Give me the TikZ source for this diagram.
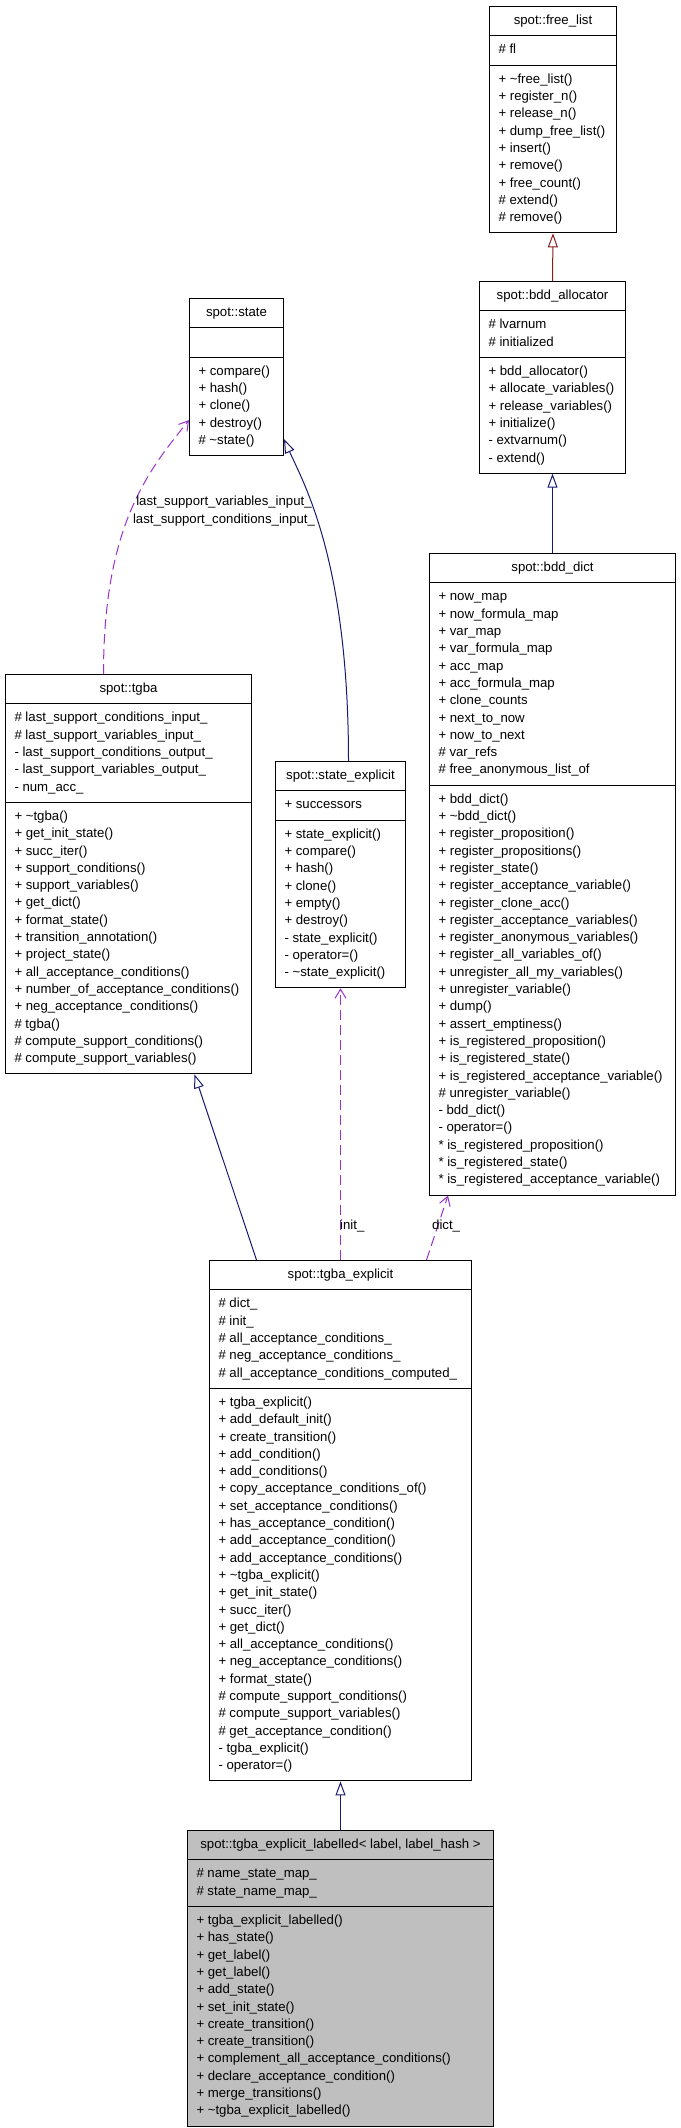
\documentclass[tikz,border=0pt]{standalone}
\usepackage{fontspec}
\setmainfont{Liberation Sans}
\usetikzlibrary{shapes.multipart,arrows.meta}

\definecolor{inheritblue}{RGB}{25,25,112}
\definecolor{inheritred}{RGB}{139,26,26}
\definecolor{usepurple}{RGB}{154,50,205}

\tikzset{
	umlclass/.style={draw=black, line width=1pt, rectangle split, rectangle split parts=3,
		anchor=north west, inner xsep=9pt, inner ysep=5.5pt, align=flush left,
		font=\fontsize{13.2}{17.3}\selectfont},
	pubinherit/.style={draw=inheritblue, line width=1pt, -{Triangle[length=14pt,width=10pt,fill=white]}},
	protinherit/.style={draw=inheritred, line width=1pt, -{Triangle[length=14pt,width=10pt,fill=white]}},
	usage/.style={draw=usepurple, line width=1pt, dash pattern=on 10pt off 5pt, -{Straight Barb[length=9pt,width=11pt]}},
	edgelabel/.style={inner sep=0pt, align=center, font=\fontsize{13.2}{17.3}\selectfont}
}

\begin{document}
\begin{tikzpicture}[x=1pt, y=-1pt]
	\useasboundingbox (0,0) rectangle (680,2128);

	% Classes
	%free_list
	\node[umlclass, text width=109pt] (free_list) at (489,6) {\strut\hfill spot::free\_list\hfill\null
		\nodepart{second}\strut \# fl
		\nodepart{third}\strut + \textasciitilde free\_list()\\
		+ register\_n()\\
		+ release\_n()\\
		+ dump\_free\_list()\\
		+ insert()\\
		+ remove()\\
		+ free\_count()\\
		\# extend()\\
		\# remove()\strut};
	%bdd_allocator
	\node[umlclass, text width=128pt] (bdd_allocator) at (479,281) {\strut\hfill spot::bdd\_allocator\hfill\null
		\nodepart{second}\strut \# lvarnum\\
		\# initialized\strut
		\nodepart{third}\strut + bdd\_allocator()\\
		+ allocate\_variables()\\
		+ release\_variables()\\
		+ initialize()\\
		- extvarnum()\\
		- extend()\strut};
	%state
	\node[umlclass, text width=76pt] (state) at (189,298) {\strut\hfill spot::state\hfill\null
		\nodepart{second}\strut
		\nodepart{third}\strut + compare()\\
		+ hash()\\
		+ clone()\\
		+ destroy()\\
		\# \textasciitilde state()\strut};
	%bdd_dict
	\node[umlclass, text width=228pt] (bdd_dict) at (429,553) {\strut\hfill spot::bdd\_dict\hfill\null
		\nodepart{second}\strut + now\_map\\
		+ now\_formula\_map\\
		+ var\_map\\
		+ var\_formula\_map\\
		+ acc\_map\\
		+ acc\_formula\_map\\
		+ clone\_counts\\
		+ next\_to\_now\\
		+ now\_to\_next\\
		\# var\_refs\\
		\# free\_anonymous\_list\_of\strut
		\nodepart{third}\strut + bdd\_dict()\\
		+ \textasciitilde bdd\_dict()\\
		+ register\_proposition()\\
		+ register\_propositions()\\
		+ register\_state()\\
		+ register\_acceptance\_variable()\\
		+ register\_clone\_acc()\\
		+ register\_acceptance\_variables()\\
		+ register\_anonymous\_variables()\\
		+ register\_all\_variables\_of()\\
		+ unregister\_all\_my\_variables()\\
		+ unregister\_variable()\\
		+ dump()\\
		+ assert\_emptiness()\\
		+ is\_registered\_proposition()\\
		+ is\_registered\_state()\\
		+ is\_registered\_acceptance\_variable()\\
		\# unregister\_variable()\\
		- bdd\_dict()\\
		- operator=()\\
		{*} is\_registered\_proposition()\\
		{*} is\_registered\_state()\\
		{*} is\_registered\_acceptance\_variable()\strut};
	%tgba
	\node[umlclass, text width=228pt] (tgba) at (5,674) {\strut\hfill spot::tgba\hfill\null
		\nodepart{second}\strut \# last\_support\_conditions\_input\_\\
		\# last\_support\_variables\_input\_\\
		- last\_support\_conditions\_output\_\\
		- last\_support\_variables\_output\_\\
		- num\_acc\_\strut
		\nodepart{third}\strut + \textasciitilde tgba()\\
		+ get\_init\_state()\\
		+ succ\_iter()\\
		+ support\_conditions()\\
		+ support\_variables()\\
		+ get\_dict()\\
		+ format\_state()\\
		+ transition\_annotation()\\
		+ project\_state()\\
		+ all\_acceptance\_conditions()\\
		+ number\_of\_acceptance\_conditions()\\
		+ neg\_acceptance\_conditions()\\
		\# tgba()\\
		\# compute\_support\_conditions()\\
		\# compute\_support\_variables()\strut};
	%state_explicit
	\node[umlclass, text width=112pt] (state_explicit) at (275,761) {\strut\hfill spot::state\_explicit\hfill\null
		\nodepart{second}\strut + successors
		\nodepart{third}\strut + state\_explicit()\\
		+ compare()\\
		+ hash()\\
		+ clone()\\
		+ empty()\\
		+ destroy()\\
		- state\_explicit()\\
		- operator=()\\
		- \textasciitilde state\_explicit()\strut};
	%tgba_explicit
	\node[umlclass, text width=244pt] (tgba_explicit) at (209,1260) {\strut\hfill spot::tgba\_explicit\hfill\null
		\nodepart{second}\strut \# dict\_\\
		\# init\_\\
		\# all\_acceptance\_conditions\_\\
		\# neg\_acceptance\_conditions\_\\
		\# all\_acceptance\_conditions\_computed\_\strut
		\nodepart{third}\strut + tgba\_explicit()\\
		+ add\_default\_init()\\
		+ create\_transition()\\
		+ add\_condition()\\
		+ add\_conditions()\\
		+ copy\_acceptance\_conditions\_of()\\
		+ set\_acceptance\_conditions()\\
		+ has\_acceptance\_condition()\\
		+ add\_acceptance\_condition()\\
		+ add\_acceptance\_conditions()\\
		+ \textasciitilde tgba\_explicit()\\
		+ get\_init\_state()\\
		+ succ\_iter()\\
		+ get\_dict()\\
		+ all\_acceptance\_conditions()\\
		+ neg\_acceptance\_conditions()\\
		+ format\_state()\\
		\# compute\_support\_conditions()\\
		\# compute\_support\_variables()\\
		\# get\_acceptance\_condition()\\
		- tgba\_explicit()\\
		- operator=()\strut};
	%tgba_explicit_labelled
	\node[umlclass, text width=288pt, fill=black!25] (labelled) at (187,1830) {\strut\hfill spot::tgba\_explicit\_labelled< label, label\_hash >\hfill\null
		\nodepart{second}\strut \# name\_state\_map\_\\
		\# state\_name\_map\_\strut
		\nodepart{third}\strut + tgba\_explicit\_labelled()\\
		+ has\_state()\\
		+ get\_label()\\
		+ get\_label()\\
		+ add\_state()\\
		+ set\_init\_state()\\
		+ create\_transition()\\
		+ create\_transition()\\
		+ complement\_all\_acceptance\_conditions()\\
		+ declare\_acceptance\_condition()\\
		+ merge\_transitions()\\
		+ \textasciitilde tgba\_explicit\_labelled()\strut};

	% Inheritance
	\draw[protinherit] (bdd_allocator.north) -- (free_list.south);
	\draw[pubinherit] (bdd_dict.north) -- (bdd_allocator.south);
	\draw[pubinherit] ([xshift=8pt]state_explicit.north) .. controls +(0,-200) and +(20,45) .. ([yshift=17pt]state.south east);
	\draw[pubinherit] ([xshift=-84pt]tgba_explicit.north) -- ([xshift=66pt]tgba.south);
	\draw[pubinherit] (labelled.north) -- (tgba_explicit.south);

	% Usage
	\draw[usage] ([xshift=-25pt]tgba.north) .. controls +(0,-150) and +(-40,50) .. ([yshift=36pt]state.south west);
	\draw[usage] (tgba_explicit.north) -- (state_explicit.south);
	\draw[usage] ([xshift=86pt]tgba_explicit.north) -- ([xshift=19pt]bdd_dict.south west);

	%Usage labels
	\node[edgelabel] (lsinput) at (224,511) {\strut last\_support\_variables\_input\_\\last\_support\_conditions\_input\_\strut};
	\node[edgelabel, anchor=west] (initlabel) at (340,1226) {\strut init\_};
	\node[edgelabel, anchor=west] (dictlabel) at (432,1226) {\strut dict\_};

\end{tikzpicture}
\end{document}
